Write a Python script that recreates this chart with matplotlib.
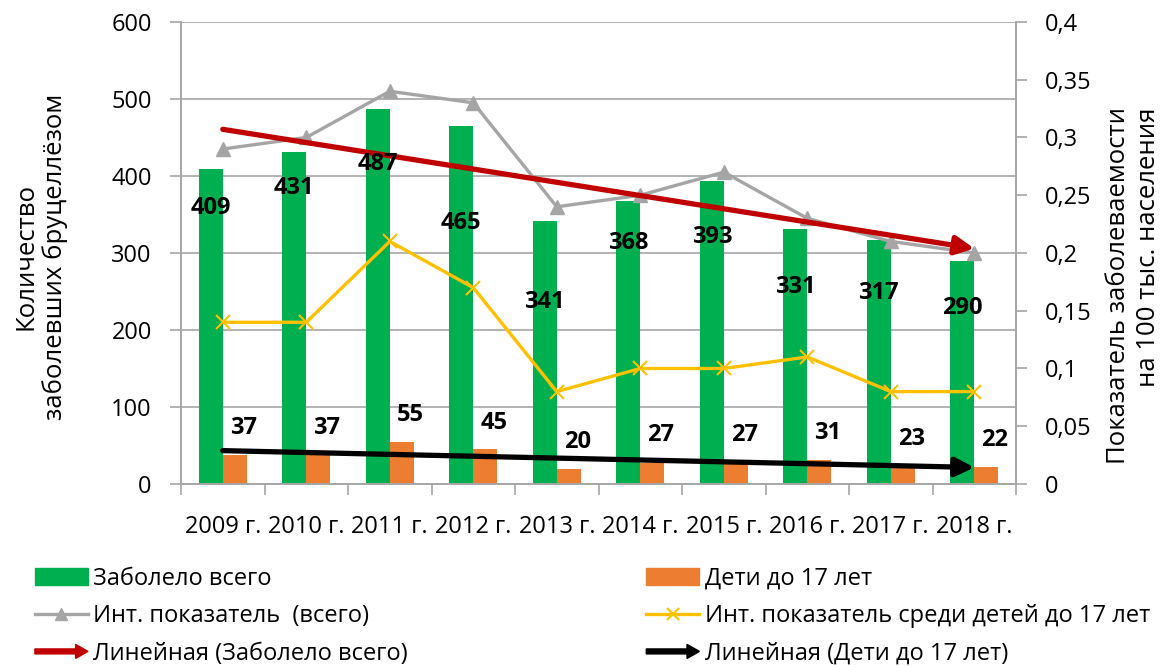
import numpy as np
import matplotlib
matplotlib.use('Agg')
import matplotlib.pyplot as plt
import matplotlib.patches as mpatches
from matplotlib.lines import Line2D
from matplotlib.legend_handler import HandlerPatch

plt.rcParams['font.family'] = ['Open Sans', 'DejaVu Sans']

# Data
years = ['2009 г.', '2010 г.', '2011 г.', '2012 г.', '2013 г.',
         '2014 г.', '2015 г.', '2016 г.', '2017 г.', '2018 г.']
total_cases = [409, 431, 487, 465, 341, 368, 393, 331, 317, 290]
child_cases = [37, 37, 55, 45, 20, 27, 27, 31, 23, 22]
rate_total = [0.29, 0.30, 0.34, 0.33, 0.24, 0.25, 0.27, 0.23, 0.21, 0.20]
rate_child = [0.14, 0.14, 0.21, 0.17, 0.08, 0.10, 0.10, 0.11, 0.08, 0.08]

# where the data labels sit (left axis units), as placed in the original
total_label_y = [358, 384, 416, 339, 236, 313, 321, 256, 248, 228]
child_label_y = [73, 73, 90, 79, 55, 64, 64, 66, 58, 57]

green = '#00B050'
orange = '#ED7D31'
gray = '#A5A5A5'
yellow = '#FFC000'
red = '#C00000'
axis_gray = '#A6A6A6'

fig = plt.figure(figsize=(11.62, 6.66), dpi=100)
ax = fig.add_axes([0.1558, 0.2733, 0.7186, 0.6937])
ax2 = ax.twinx()

x = np.arange(len(years))
bw = 0.287
ax.bar(x - bw / 2, total_cases, bw, color=green, zorder=2)
ax.bar(x + bw / 2, child_cases, bw, color=orange, zorder=2)

ax2.plot(x, rate_total, color=gray, lw=2.4, marker='^', ms=10, zorder=3)
ax2.plot(x, rate_child, color=yellow, lw=2.4, marker='x', ms=10, mew=1.5, zorder=3)

# linear trend lines (Excel "Линейная")
for series, col in [(total_cases, red), (child_cases, 'black')]:
    k, b = np.polyfit(x, series, 1)
    ax2.annotate('', xy=(x[-1], k * x[-1] + b), xytext=(x[0], b),
                 xycoords=ax.transData, textcoords=ax.transData,
                 arrowprops=dict(arrowstyle='-|>', lw=3.8, color=col,
                                 mutation_scale=28, shrinkA=0, shrinkB=0),
                 zorder=4)

# data labels
for i in range(len(x)):
    ax2.text(x[i] - bw / 2, total_label_y[i] / 1500, str(total_cases[i]),
             ha='center', va='center', fontsize=17, fontweight='bold', zorder=5)
    ax2.text(x[i] + bw / 2 + 0.1, child_label_y[i] / 1500, str(child_cases[i]),
             ha='center', va='center', fontsize=17, fontweight='bold', zorder=5)

# axes
ax.set_xlim(-0.5, 9.5)
ax.set_ylim(0, 600)
ax2.set_ylim(0, 0.4)
ax.set_yticks(range(0, 601, 100))
ax2.set_yticks(np.arange(0, 0.401, 0.05))
ax2.set_yticklabels(['0', '0,05', '0,1', '0,15', '0,2', '0,25', '0,3', '0,35', '0,4'])

ax.set_xticks(np.arange(-0.5, 10, 1))
ax.set_xticklabels([])
ax.set_xticks(x, minor=True)
ax.set_xticklabels(years, minor=True)
ax.tick_params(axis='x', which='major', length=8, color=axis_gray, width=1.2)
ax.tick_params(axis='x', which='minor', length=0, pad=22, labelsize=17)
ax.tick_params(axis='y', length=8, color=axis_gray, width=1.2, pad=13, labelsize=17)
ax2.tick_params(axis='y', length=8, color=axis_gray, width=1.2, pad=13, labelsize=17)

ax.yaxis.grid(True, color=axis_gray, lw=1.2, zorder=0)
ax.set_axisbelow(True)
for a in (ax, ax2):
    a.spines['top'].set_visible(False)
    for s in ('left', 'right', 'bottom'):
        a.spines[s].set_color(axis_gray)
        a.spines[s].set_linewidth(1.2)

fig.text(0.035, 0.615, 'Количество\nзаболевших бруцеллёзом', rotation=90,
         ha='center', va='center', fontsize=18.5, linespacing=1.15)
fig.text(0.9755, 0.571, 'Показатель заболеваемости\nна 100 тыс. населения',
         rotation=90, ha='center', va='center', fontsize=18.5, linespacing=1.3,
         multialignment='right')


# legend
class ArrowHandle(mpatches.Patch):
    pass


def make_arrow(legend, orig_handle, xdescent, ydescent, width, height, fontsize):
    return mpatches.FancyArrow(0, height / 2, width, 0, width=height * 0.3,
                               head_width=height * 0.85, head_length=height * 0.75,
                               length_includes_head=True,
                               color=orig_handle.get_facecolor())


handles = [
    mpatches.Patch(color=green),
    Line2D([], [], color=gray, lw=2.4, marker='^', ms=8),
    ArrowHandle(color=red),
    mpatches.Patch(color=orange),
    Line2D([], [], color=yellow, lw=2.4, marker='x', ms=8, mew=1.5),
    ArrowHandle(color='black'),
]
labels = ['Заболело всего', 'Инт. показатель  (всего)', 'Линейная (Заболело всего)',
          'Дети до 17 лет', 'Инт. показатель среди детей до 17 лет',
          'Линейная (Дети до 17 лет)']
fig.legend(handles, labels, loc='upper left', bbox_to_anchor=(0.030, 0.149),
           ncol=2, frameon=False, fontsize=17, handlelength=2.25,
           handletextpad=0.22, labelspacing=0.57, columnspacing=10.1,
           borderaxespad=0, borderpad=0,
           handler_map={ArrowHandle: HandlerPatch(patch_func=make_arrow)})

fig.savefig('out.png', dpi=100)
